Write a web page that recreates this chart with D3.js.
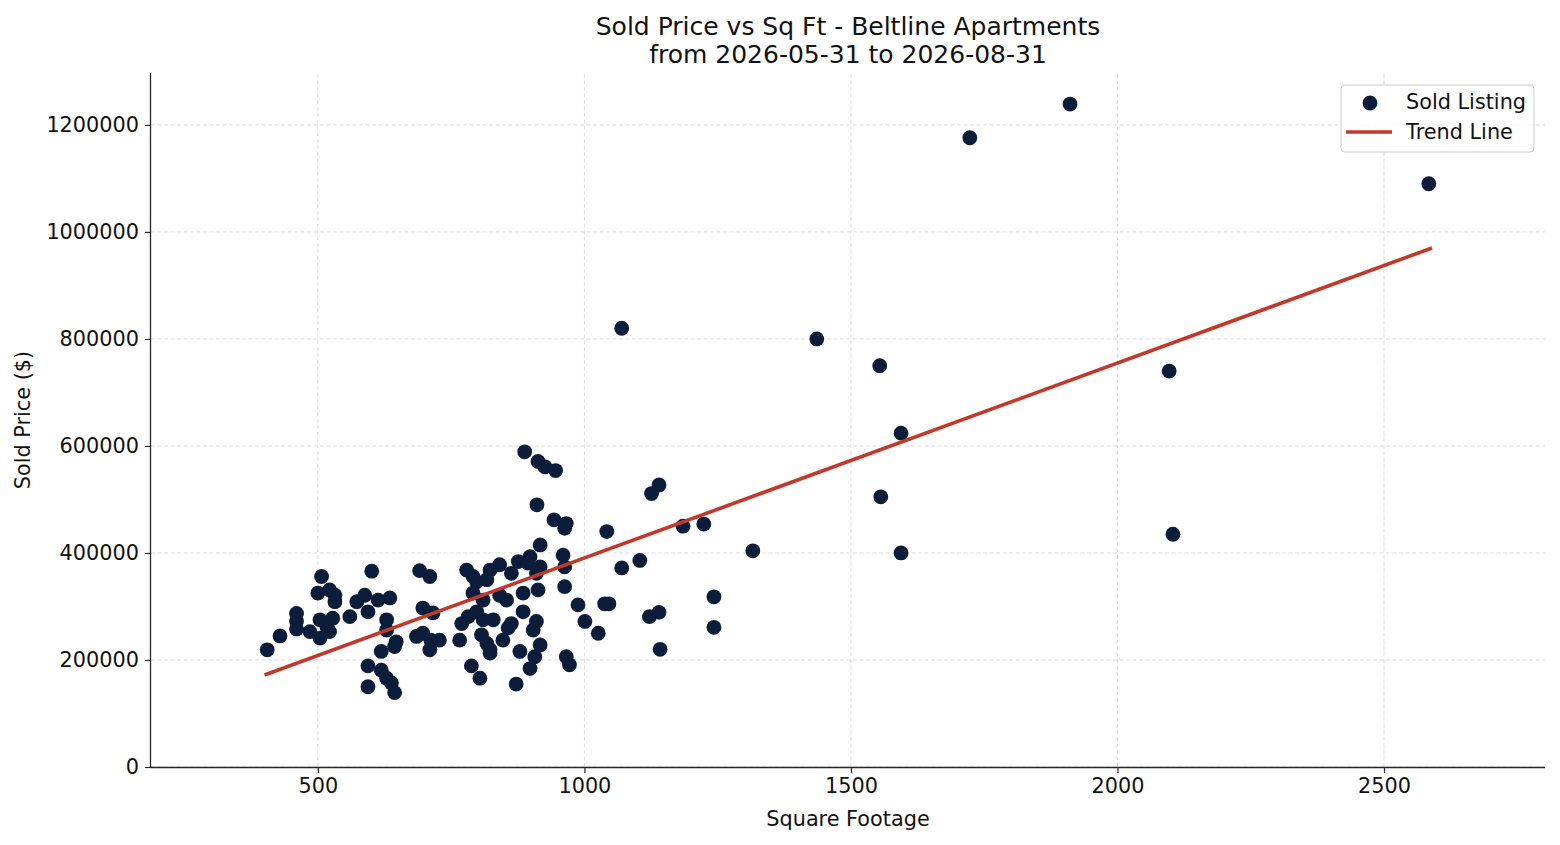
<!DOCTYPE html>
<html>
<head>
<meta charset="utf-8">
<script src="https://cdn.jsdelivr.net/npm/d3@7"></script>
<style>
  html, body { margin: 0; padding: 0; background: #fff; }
  svg { display: block; font-family: "DejaVu Sans", sans-serif; }
</style>
</head>
<body>
<div id="chart"></div>
<script>
// sold listings
const sqft = [
  405, 429, 460, 460, 460, 485, 504, 507, 500, 522, 532, 532, 504, 517, 528, 522,
  560, 573, 588, 594, 601, 613, 635, 629, 629, 647, 644, 619, 594, 619, 629, 638,
  644, 594, 691, 710, 697, 716, 685, 697, 712, 728, 710,
  917, 960, 963, 963, 988, 1001, 1026, 1038, 1046, 1070,
  779, 791, 798, 823, 841, 863, 876, 898, 894, 917, 910, 913, 885, 854, 841, 817,
  791, 810, 782, 798, 810, 829, 770, 766, 807, 817, 823, 847, 863, 857, 885, 910,
  904, 917, 879, 907, 898, 966, 972, 872, 804, 788, 823,
  888, 913, 926, 946, 911, 943, 966, 963, 1042,
  1140, 1126, 1185, 1224, 1104, 1243, 1122, 1140, 1243, 1142, 1316,
  1436, 1554, 1556, 1594, 1594, 1723, 1911, 2097, 2104, 2584, 1070
];
const price = [
  219000, 245000, 287000, 273000, 258000, 253000, 241000, 356000, 325000, 331000, 321000, 309000, 275000, 262000, 278000, 253000,
  281000, 309000, 321000, 290000, 366000, 312000, 316000, 275000, 256000, 234000, 225000, 216000, 189000, 181000, 166000, 157000,
  139000, 150000, 367000, 356000, 297000, 288000, 244000, 250000, 237000, 237000, 219000,
  415000, 396000, 374000, 337000, 303000, 272000, 250000, 305000, 305000, 372000,
  368000, 356000, 346000, 368000, 378000, 362000, 384000, 393000, 381000, 374000, 362000, 331000, 325000, 312000, 321000, 350000,
  325000, 312000, 281000, 290000, 275000, 275000, 268000, 237000, 247000, 231000, 219000, 237000, 268000, 260000, 290000, 272000,
  256000, 228000, 216000, 206000, 184000, 206000, 191000, 155000, 166000, 189000, 213000,
  589000, 571000, 561000, 554000, 490000, 462000, 455000, 446000, 440000,
  527000, 511000, 450000, 454000, 386000, 318000, 281000, 289000, 261000, 220000, 404000,
  800000, 750000, 505000, 624000, 400000, 1176000, 1239000, 740000, 435000, 1090000, 820000
];

// trend line end points
const trendSqft = [400, 2590];
const trendPrice = [172000, 970000];

const xTicks = [500, 1000, 1500, 2000, 2500];
const yTicks = [0, 200000, 400000, 600000, 800000, 1000000, 1200000];

const titleLines = ["Sold Price vs Sq Ft - Beltline Apartments", "from 2026-05-31 to 2026-08-31"];

const width = 1560;
const height = 845;
const margin = { top: 73, right: 15, bottom: 78, left: 151 };

const dotColor = "#0b1d3a";
const trendColor = "#c0392b";
const fontSize = "20.8px";

const svg = d3.select("#chart")
  .append("svg")
  .attr("width", width)
  .attr("height", height);

const x = d3.scaleLinear()
  .domain([187, 2802])
  .range([margin.left, width - margin.right]);

const y = d3.scaleLinear()
  .domain([0, 1297000])
  .range([height - margin.bottom, margin.top]);

// grid
const grid = svg.append("g")
  .attr("stroke", "#d4d4d4")
  .attr("stroke-width", 0.8)
  .attr("stroke-dasharray", "4,2.5");

grid.selectAll("line.gx")
  .data(xTicks)
  .enter()
  .append("line")
    .attr("class", "gx")
    .attr("x1", d => x(d))
    .attr("x2", d => x(d))
    .attr("y1", y.range()[0])
    .attr("y2", y.range()[1]);

grid.selectAll("line.gy")
  .data(yTicks)
  .enter()
  .append("line")
    .attr("class", "gy")
    .attr("x1", x.range()[0])
    .attr("x2", x.range()[1])
    .attr("y1", d => y(d))
    .attr("y2", d => y(d));

// axes
const xAxis = d3.axisBottom(x)
  .tickValues(xTicks)
  .tickSize(6)
  .tickPadding(5)
  .tickFormat(d3.format("d"));

const yAxis = d3.axisLeft(y)
  .tickValues(yTicks)
  .tickSize(6)
  .tickPadding(6)
  .tickFormat(d3.format("d"));

const gx = svg.append("g")
  .attr("transform", "translate(0," + (height - margin.bottom) + ")")
  .call(xAxis);

const gy = svg.append("g")
  .attr("transform", "translate(" + margin.left + ",0)")
  .call(yAxis);

[gx, gy].forEach(g => {
  g.select(".domain").attr("stroke", "#262626").attr("stroke-width", 1.3);
  g.selectAll(".tick line").attr("stroke", "#262626").attr("stroke-width", 1.2);
  g.selectAll(".tick text")
    .attr("fill", "#111")
    .style("font-size", fontSize)
    .style("font-family", "DejaVu Sans, sans-serif");
});
// matplotlib-like spine: no end ticks
gx.select(".domain").attr("d", "M" + x.range()[0] + ",0.5H" + x.range()[1]);
gy.select(".domain").attr("d", "M-0.5," + y.range()[0] + "V" + y.range()[1]);

// points
const points = sqft.map((d, i) => ({ sqft: d, price: price[i] }));
svg.append("g")
  .selectAll("circle")
  .data(points)
  .enter()
  .append("circle")
    .attr("cx", d => x(d.sqft))
    .attr("cy", d => y(d.price))
    .attr("r", 7.4)
    .attr("fill", dotColor);

// trend line on top of the dots
const trend = trendSqft.map((d, i) => [d, trendPrice[i]]);
svg.append("path")
  .datum(trend)
  .attr("fill", "none")
  .attr("stroke", trendColor)
  .attr("stroke-width", 3.6)
  .attr("d", d3.line().x(d => x(d[0])).y(d => y(d[1])));

// title
svg.append("text")
  .attr("text-anchor", "middle")
  .attr("fill", "#111")
  .style("font-size", "25px")
  .selectAll("tspan")
  .data(titleLines)
  .enter()
  .append("tspan")
    .attr("x", (margin.left + width - margin.right) / 2)
    .attr("y", (d, i) => 34.5 + i * 28.5)
    .text(d => d);

// axis labels
svg.append("text")
  .attr("x", (margin.left + width - margin.right) / 2)
  .attr("y", 826)
  .attr("text-anchor", "middle")
  .attr("fill", "#111")
  .style("font-size", fontSize)
  .text("Square Footage");

svg.append("text")
  .attr("transform", "translate(30," + ((margin.top + height - margin.bottom) / 2) + ") rotate(-90)")
  .attr("text-anchor", "middle")
  .attr("fill", "#111")
  .style("font-size", fontSize)
  .text("Sold Price ($)");

// legend
const legend = svg.append("g").attr("transform", "translate(1341,85)");
legend.append("rect")
  .attr("width", 193)
  .attr("height", 67)
  .attr("rx", 4)
  .attr("fill", "#fff")
  .attr("fill-opacity", 0.8)
  .attr("stroke", "#cccccc")
  .attr("stroke-width", 1);

legend.append("circle")
  .attr("cx", 29)
  .attr("cy", 18)
  .attr("r", 7.4)
  .attr("fill", dotColor);

legend.append("line")
  .attr("x1", 5)
  .attr("x2", 51)
  .attr("y1", 47)
  .attr("y2", 47)
  .attr("stroke", trendColor)
  .attr("stroke-width", 3.6);

legend.selectAll("text")
  .data(["Sold Listing", "Trend Line"])
  .enter()
  .append("text")
    .attr("x", 65)
    .attr("y", (d, i) => 24 + i * 29.5)
    .attr("fill", "#111")
    .style("font-size", fontSize)
    .text(d => d);
</script>
</body>
</html>
